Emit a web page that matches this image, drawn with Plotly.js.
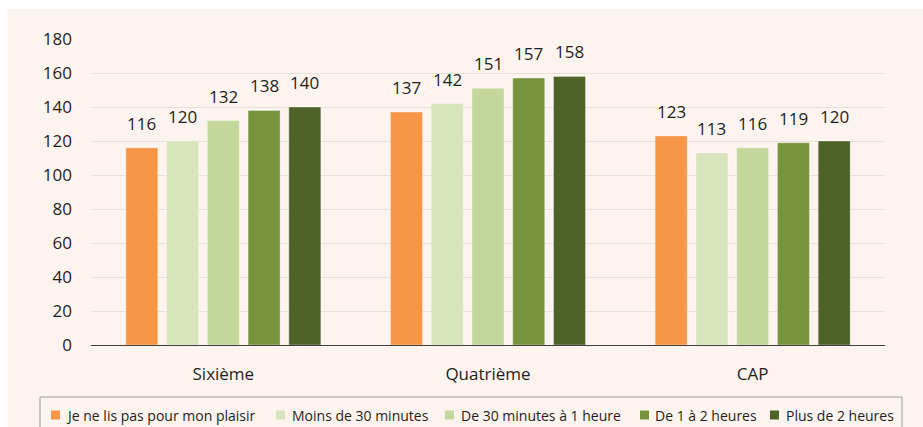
<!DOCTYPE html>
<html><head><meta charset="utf-8">
<script src="https://cdn.plot.ly/plotly-3.0.1.min.js"></script>
<style>
html,body{margin:0;padding:0;background:#ffffff;width:923px;height:427px;overflow:hidden;}
#chart{position:absolute;left:7px;top:9px;width:916px;height:418px;}
</style></head>
<body><div id="chart"></div>
<script>
const categories = ["Sixième", "Quatrième", "CAP"];
const seriesNames = ["Je ne lis pas pour mon plaisir", "Moins de 30 minutes", "De 30 minutes à 1 heure", "De 1 à 2 heures", "Plus de 2 heures"];
const nonLecteurs = [116, 137, 123];
const moins30 = [120, 142, 113];
const de30a1h = [132, 151, 116];
const de1a2h = [138, 157, 119];
const plus2h = [140, 158, 120];
const colors = ["#F79646", "#D8E4BC", "#C4D79B", "#77933C", "#4F6228"];
const yTicks = [0, 20, 40, 60, 80, 100, 120, 140, 160, 180];

const seriesValues = [nonLecteurs, moins30, de30a1h, de1a2h, plus2h];
const FONT = "Open Sans, Noto Sans, sans-serif";
const TXT = "#1e1e1e";

// plot-area geometry in page pixels (used for layout only)
const PL = 91, PR = 885, PT = 39, PB = 345;
const px2x = p => (p - PL) / (PR - PL);
const px2y = p => (PB - p) / (PB - PT);
const slotPx = 40.75;

const traces = seriesValues.map((vals, i) => ({
  type: "bar",
  name: seriesNames[i],
  x: categories,
  y: vals,
  marker: {color: colors[i], line: {color: "rgba(255,255,255,0.35)", width: 1}},
  hoverinfo: "skip",
  showlegend: false
}));

const annotations = [];
seriesValues.forEach((vals, i) => {
  vals.forEach((v, j) => {
    annotations.push({
      x: categories[j], y: v, xref: "x", yref: "y",
      text: String(v), showarrow: false,
      xanchor: "center", yanchor: "bottom",
      xshift: (i - 2) * slotPx, yshift: 11,
      font: {family: FONT, size: 17, color: TXT}
    });
  });
});

// legend (manual, to match the compact reference spacing)
const legSquareLeft = [51, 276, 445, 640, 770];
const legTextLeft = [64, 290, 459, 653, 784];
const legCy = 415;
const shapes = [{
  type: "rect", xref: "paper", yref: "paper",
  x0: px2x(40), x1: px2x(902),
  y0: px2y(397), y1: px2y(460),
  line: {color: "#9a9a9a", width: 1},
  fillcolor: "rgba(0,0,0,0)",
  layer: "below"
}];
seriesNames.forEach((n, i) => {
  shapes.push({
    type: "rect", xref: "paper", yref: "paper",
    x0: px2x(legSquareLeft[i]), x1: px2x(legSquareLeft[i] + 9),
    y0: px2y(legCy - 4.5), y1: px2y(legCy + 4.5),
    line: {width: 0}, fillcolor: colors[i]
  });
  annotations.push({
    xref: "paper", yref: "paper",
    x: px2x(legTextLeft[i]), y: px2y(legCy),
    xanchor: "left", yanchor: "middle",
    text: n, showarrow: false,
    font: {family: FONT, size: 14, color: TXT}
  });
});

const layout = {
  width: 916, height: 418,
  margin: {l: PL - 7, r: 916 - (PR - 7), t: PT - 9, b: 418 - (PB - 9)},
  paper_bgcolor: "#FDF4EF",
  plot_bgcolor: "#FDF4EF",
  barmode: "group",
  bargap: 0.23,
  bargroupgap: 0.215,
  font: {family: FONT, size: 17, color: TXT},
  showlegend: false,
  xaxis: {
    type: "category",
    showgrid: false,
    showline: true,
    linecolor: "#404040",
    linewidth: 1,
    ticks: "",
    ticklabelstandoff: 14,
    tickfont: {family: FONT, size: 17, color: TXT},
    fixedrange: true
  },
  yaxis: {
    range: [0, 180],
    tickvals: yTicks,
    ticktext: yTicks.map(String),
    showgrid: true,
    gridcolor: "#E8E1DB",
    gridwidth: 1,
    zeroline: false,
    showline: false,
    ticks: "",
    ticklabelstandoff: 18,
    tickfont: {family: FONT, size: 17, color: TXT},
    fixedrange: true
  },
  annotations: annotations,
  shapes: shapes
};

Plotly.newPlot("chart", traces, layout, {displayModeBar: false, staticPlot: true});
</script>
</body></html>
